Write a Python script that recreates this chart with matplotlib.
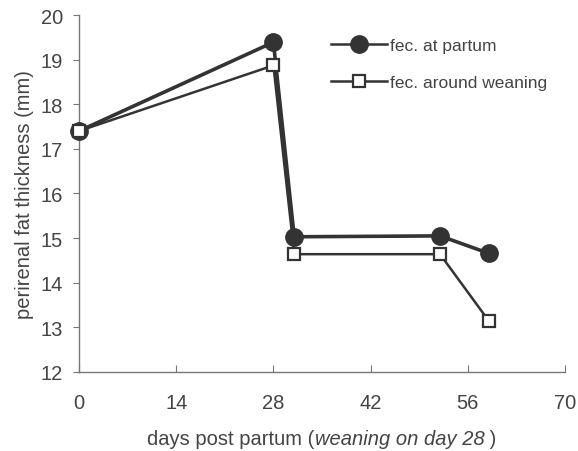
import matplotlib
matplotlib.use('Agg')
import matplotlib.pyplot as plt
from matplotlib.offsetbox import TextArea, HPacker, AnchoredOffsetbox

days = [0, 28, 31, 52, 59]
fec_partum = [17.4, 19.39, 15.03, 15.05, 14.66]
fec_weaning = [17.4, 18.87, 14.64, 14.64, 13.15]
xticks = [0, 14, 28, 42, 56, 70]
yticks = [12, 13, 14, 15, 16, 17, 18, 19, 20]

plt.rcParams['font.family'] = ['Liberation Sans', 'DejaVu Sans']

line_col = '#333333'
text_col = '#444444'
axis_col = '#777777'

fig = plt.figure(figsize=(5.78, 4.52), dpi=100)
ax = fig.add_axes([0.1367, 0.1748, 0.8408, 0.7898])

ax.plot(days, fec_partum, color=line_col, lw=2.6, marker='o', ms=12.5,
        mfc=line_col, mec=line_col, label='fec. at partum', zorder=3, clip_on=False)
ax.plot(days, fec_weaning, color=line_col, lw=1.8, marker='s', ms=8.5,
        mfc='white', mec=line_col, mew=1.6, label='fec. around weaning', zorder=4,
        clip_on=False)

ax.set_xlim(0, 70)
ax.set_ylim(12, 20)
ax.set_xticks(xticks)
ax.set_yticks(yticks)
ax.spines['top'].set_visible(False)
ax.spines['right'].set_visible(False)
for s in ('left', 'bottom'):
    ax.spines[s].set_color(axis_col)
    ax.spines[s].set_linewidth(1.0)
ax.tick_params(axis='x', direction='in', length=5, color=axis_col,
               labelsize=14.5, labelcolor=text_col, pad=15)
ax.tick_params(axis='y', direction='out', length=4.5, color=axis_col,
               labelsize=14.5, labelcolor=text_col, pad=7)

ax.set_ylabel('perirenal fat thickness (mm)', fontsize=14.5, color=text_col, labelpad=5)

# x label with the italic part
parts = [TextArea('days post partum (', textprops=dict(fontsize=14.5, color=text_col)),
         TextArea('weaning on day 28', textprops=dict(fontsize=14.5, color=text_col, style='italic')),
         TextArea(' )', textprops=dict(fontsize=14.5, color=text_col))]
xl = HPacker(children=parts, align='baseline', pad=0, sep=0)
box = AnchoredOffsetbox(loc='center', child=xl, pad=0, borderpad=0, frameon=False,
                        bbox_to_anchor=(0.5, -0.185), bbox_transform=ax.transAxes)
ax.add_artist(box)

leg = ax.legend(loc='upper left', bbox_to_anchor=(0.5185, 0.935), frameon=False,
                borderpad=0, borderaxespad=0,
                handlelength=3.2, handletextpad=0.2, labelspacing=1.25,
                fontsize=12.5, labelcolor=text_col)
for h in leg.legend_handles:
    h.set_linewidth(1.8)

fig.savefig('out.png', dpi=100)
